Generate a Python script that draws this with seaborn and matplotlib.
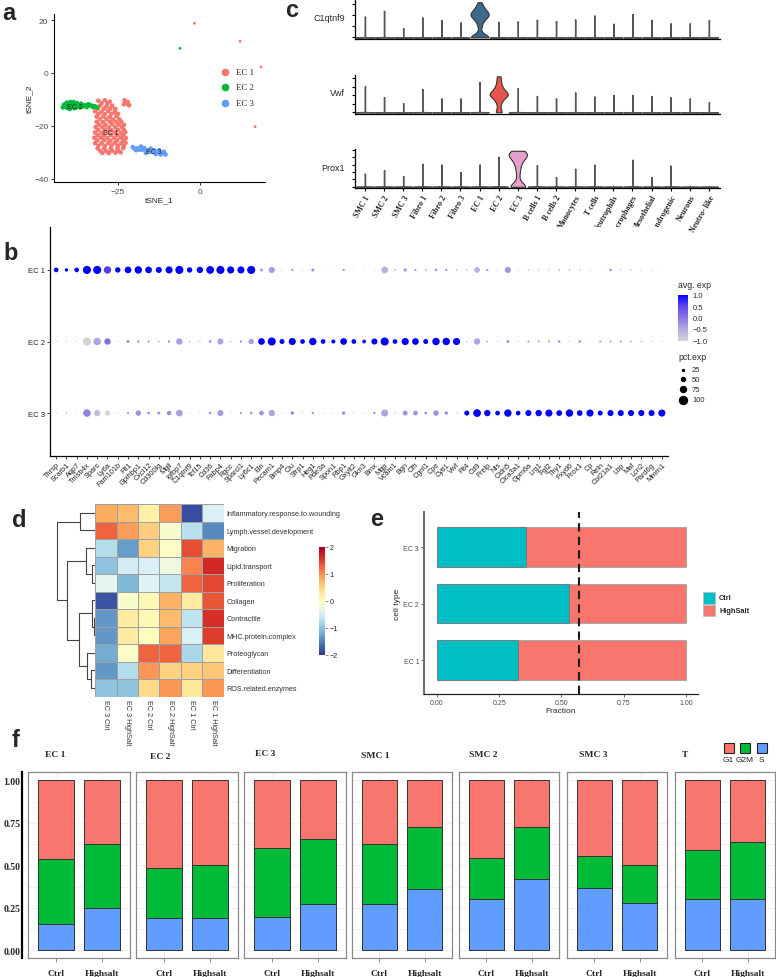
import numpy as np
import pandas as pd
import matplotlib
matplotlib.use('Agg')
import matplotlib.pyplot as plt
import seaborn as sns
from matplotlib.colors import LinearSegmentedColormap, Normalize
from matplotlib.lines import Line2D
from matplotlib.patches import Rectangle
from matplotlib.cm import ScalarMappable

sns.set_theme(style='white', rc={'xtick.bottom': True, 'ytick.left': True})
plt.rcParams['font.family'] = ['Liberation Sans', 'DejaVu Sans']
SERIF = ['Liberation Serif', 'DejaVu Serif']

# ---------------- panel a : tSNE ----------------
ec1_pts = [(-31.0, -10.5), (-29.0, -10.3), (-27.5, -10.8),
           (-32.3, -12.5), (-30.5, -12.4), (-28.5, -12.6), (-26.8, -12.3),
           (-32.0, -14.5), (-30.0, -14.6), (-28.0, -14.4), (-26.0, -14.7),
           (-31.5, -16.5), (-29.5, -16.4), (-27.5, -16.6), (-25.5, -16.3),
           (-31.5, -18.5), (-29.5, -18.6), (-27.5, -18.4), (-25.5, -18.6), (-24.0, -18.3),
           (-31.8, -20.5), (-29.8, -20.4), (-27.8, -20.6), (-25.8, -20.5), (-23.8, -20.4),
           (-32.0, -22.5), (-30.0, -22.6), (-28.0, -22.4), (-26.0, -22.5), (-24.0, -22.6), (-22.8, -22.3),
           (-32.2, -24.5), (-30.2, -24.4), (-28.2, -24.6), (-26.2, -24.5), (-24.2, -24.4), (-22.6, -24.6),
           (-32.0, -26.5), (-30.0, -26.6), (-28.0, -26.4), (-26.0, -26.5), (-24.0, -26.6), (-22.7, -26.4),
           (-31.2, -28.5), (-29.2, -28.4), (-27.2, -28.6), (-25.2, -28.5), (-23.4, -28.4),
           (-29.8, -30.2), (-27.8, -30.3), (-25.8, -30.1), (-24.2, -30.0),
           (-30.0, -11.5), (-28.2, -11.5),
           (-31.2, -13.5), (-29.3, -13.5), (-27.3, -13.4), (-25.8, -13.6),
           (-31.0, -15.5), (-29.0, -15.6), (-27.0, -15.4), (-25.0, -15.5),
           (-30.5, -17.5), (-28.5, -17.4), (-26.5, -17.6), (-24.6, -17.5),
           (-30.8, -19.5), (-28.8, -19.6), (-26.8, -19.4), (-24.8, -19.5), (-23.2, -19.6),
           (-31.0, -21.5), (-29.0, -21.4), (-27.0, -21.6), (-25.0, -21.5), (-23.2, -21.4),
           (-31.2, -23.5), (-29.2, -23.6), (-27.2, -23.4), (-25.2, -23.5), (-23.3, -23.6),
           (-31.3, -25.5), (-29.3, -25.4), (-27.3, -25.6), (-25.3, -25.5), (-23.4, -25.4),
           (-31.0, -27.5), (-29.0, -27.6), (-27.0, -27.4), (-25.0, -27.5), (-23.2, -27.6),
           (-30.4, -29.4), (-28.6, -29.5), (-26.8, -29.3), (-24.9, -29.4),
           (-23.0, -10.3), (-22.0, -11.0), (-23.2, -11.8), (-21.6, -12.2), (-22.5, -11.5)]
ec1_outliers = [(-1.7, 18.8), (12.2, 12.0), (16.8, -20.3), (18.6, 2.3)]
ec2_pts = [(-41.5, -12.0), (-40.5, -11.2), (-40.5, -13.2), (-39.3, -12.2), (-38.5, -11.0),
           (-38.3, -13.3), (-37.2, -12.2), (-36.2, -11.6), (-36.5, -13.0), (-41.8, -13.0),
           (-39.5, -11.0), (-39.7, -13.6), (-35.0, -12.2), (-34.0, -11.8), (-33.0, -12.4),
           (-32.0, -12.6), (-31.3, -13.0), (-34.5, -12.9),
           (-41.0, -12.6), (-40.0, -12.0), (-39.0, -12.8), (-38.0, -12.0), (-37.5, -11.4),
           (-37.8, -13.1), (-40.8, -11.6), (-35.6, -12.6), (-33.5, -12.2), (-32.6, -12.9)]
ec2_outliers = [(-6.1, 9.3)]
ec3_pts = [(-20.5, -28.0), (-19.0, -28.5), (-17.5, -29.0), (-16.0, -29.3), (-14.5, -29.8),
           (-13.0, -30.0), (-11.5, -30.3), (-10.5, -30.8), (-18.0, -27.8), (-15.0, -28.6),
           (-12.5, -29.2), (-16.5, -30.2), (-19.5, -29.2),
           (-20.0, -28.6), (-18.5, -29.0), (-17.0, -28.4), (-15.5, -29.5), (-14.0, -29.2),
           (-12.0, -30.8), (-11.0, -29.8), (-13.5, -30.6)]
clusters = ['EC 1', 'EC 2', 'EC 3']
cluster_colors = ['#F8766D', '#00BA38', '#619CFF']

# ---------------- panel c : violins ----------------
cells = ['SMC 1', 'SMC 2', 'SMC 3', 'Fibro 1', 'Fibro 2', 'Fibro 3', 'EC 1', 'EC 2', 'EC 3',
         'B cells 1', 'B cells 2', 'Monocytes', 'T cells', 'Neutrophils', 'Macrophages',
         'Mesothelial', 'Chondrogenic', 'Neurons', 'Neutro- like']
c1qtnf9_max = [1.89, 2.4, 0.81, 1.8, 1.56, 1.35, np.nan, 1.41, 1.44, 1.59, 1.47, 1.62,
               1.98, 1.23, 2.1, 1.59, 1.26, 1.26, 1.56]
vwf_max = [3.03, 1.75, 1.05, 2.72, 1.6, 1.6, 3.54, np.nan, 2.8, 1.9, 1.6, 2.3, 1.83,
           2.0, 2.02, 1.9, 1.75, 1.6, 1.17]
prox1_max = [1.76, 2.25, 1.44, 3.1, 3.0, 2.0, 3.0, 4.05, np.nan, 2.9, 1.3, 2.43, 2.97,
             0.06, 3.65, 1.3, 2.84, 0.06, 0.06]
c1qtnf9_ec1 = [0, 0, 0, 0, 0, 0, 0, 0, 0, 0, 0, 0, 0, 0,
               0.3, 0.6, 0.9, 1.1, 1.3, 1.4, 1.5, 1.6, 1.7, 1.75, 1.8, 1.85, 1.9, 1.95,
               2.0, 2.0, 2.05, 2.1, 2.1, 2.15, 2.2, 2.2, 2.25, 2.3, 2.35, 2.4, 2.5, 2.55,
               2.6, 2.7, 2.8, 2.9, 3.0, 3.2]
vwf_ec2 = [0, 0, 0, 0.4, 0.8, 1.1, 1.3, 1.5, 1.6, 1.7, 1.8, 1.9, 1.95, 2.0, 2.05, 2.1,
           2.15, 2.2, 2.25, 2.3, 2.4, 2.5, 2.6, 2.7, 2.85, 3.0, 3.2, 3.4, 3.7, 4.0, 4.2]
prox1_ec3 = [0, 0, 0, 0, 0, 0, 0, 0, 0, 0, 0, 0,
             0.4, 0.9, 1.4, 1.8, 2.2, 2.5, 2.8, 3.0, 3.2, 3.4, 3.6, 3.7, 3.8, 3.9, 4.0,
             4.1, 4.15, 4.2, 4.3, 4.35, 4.4, 4.45, 4.5, 4.55, 4.6, 4.65, 4.7, 4.75, 4.8, 4.86]

# ---------------- panel b : dot plot ----------------
genes = ['Thrsp', 'Scarb1', 'Aqp7', 'Tmsb4x', 'Sparc', 'Ly6a', 'Fam101b', 'Flt1', 'Gpihbp1',
         'Cxcl12', 'Cd300lg', 'Mgll', 'Igfbp7', 'C1qtnf9', 'Tcf15', 'Cd36', 'Fabp4', 'Rgcc',
         'Sparcl1', 'Ly6c1', 'Eln', 'Pecam1', 'Bmp4', 'Clu', 'Sfrp1', 'Heg1', 'Pde3a', 'Spon1',
         'Rbp1', 'Gxylt2', 'Gkn3', 'Bmx', 'Mgp', 'Vcam1', 'Bgn', 'Cfh', 'Cgnl1', 'Cpe', 'Cytl1',
         'Vwf', 'Flt4', 'Cd9', 'Prelp', 'Nts', 'Cldn5', 'Clca3a1', 'Gpm6a', 'Lrg1', 'Fgl2',
         'Thy1', 'Fxyd6', 'Prox1', 'Cp', 'Reln', 'Col21a1', 'Lbp', 'Maf', 'Lcn2', 'Pard6g', 'Mmrn1']
pct_ec1 = [58, 42, 58, 100, 100, 92, 67, 83, 92, 83, 75, 88, 100, 67, 79, 96, 100, 88, 88, 100,
           37, 75, 12, 29, 12, 37, 10, 10, 29, 10, 10, 10, 83, 20, 40, 25, 20, 33, 29, 17,
           17, 71, 29, 12, 75, 12, 15, 15, 15, 18, 18, 15, 12, 8, 33, 15, 15, 12, 12, 8]
avg_ec1 = [1, 1, 1, 1, 1, 0.55, 1, 1, 1, 1, 1, 1, 1, 1, 1, 1, 1, 1, 1, 1,
           -0.35, -0.35, -0.3, -0.3, -0.3, -0.3, -0.3, -0.3, -0.3, -0.3, -0.3, -0.3, -0.6, -0.3,
           -0.3, -0.3, -0.3, -0.3, -0.3, -0.3,
           -0.3, -0.6, -0.3, -0.3, -0.3, -0.3, -0.3, -0.3, -0.3, -0.3, -0.3, -0.3, -0.3, -0.3,
           -0.3, -0.3, -0.3, -0.3, -0.3, -0.3]
pct_ec2 = [12, 12, 12, 100, 92, 79, 10, 37, 29, 25, 17, 29, 79, 15, 15, 33, 75, 15, 29, 67,
           83, 100, 62, 88, 58, 92, 58, 50, 83, 58, 46, 75, 100, 58, 88, 83, 62, 92, 92, 88,
           15, 79, 20, 12, 37, 12, 25, 25, 25, 33, 12, 33, 8, 25, 25, 25, 20, 15, 12, 12]
avg_ec2 = [-0.3, -0.3, -0.3, -1, -0.45, 0.1, -0.3, -0.2, -0.2, -0.2, -0.2, -0.2, -0.4, -0.3,
           -0.3, -0.3, -0.4, -0.3, -0.3, -0.4,
           1, 1, 1, 1, 1, 1, 1, 1, 1, 1, 1, 1, 1, 1, 1, 1, 1, 1, 1, 1,
           -0.3, -0.45, -0.3, -0.3, -0.3, -0.3, -0.3, -0.3, -0.3, -0.3, -0.3, -0.3, -0.3, -0.3,
           -0.3, -0.3, -0.3, -0.3, -0.3, -0.3]
pct_ec3 = [12, 15, 12, 92, 79, 67, 12, 25, 67, 33, 37, 54, 83, 12, 12, 33, 75, 12, 25, 33,
           58, 79, 12, 42, 12, 29, 12, 12, 42, 12, 12, 29, 88, 15, 62, 58, 33, 67, 42, 12,
           62, 96, 79, 58, 92, 58, 75, 79, 88, 71, 92, 71, 88, 62, 75, 75, 75, 75, 75, 88]
avg_ec3 = [-0.3, -0.3, -0.3, -0.1, -0.75, -1, -0.3, -0.2, -0.25, -0.25, -0.25, -0.2, -0.4,
           -0.3, -0.3, -0.3, -0.35, -0.3, -0.3, -0.3,
           -0.25, -0.45, -0.3, -0.2, -0.3, -0.3, -0.3, -0.3, -0.25, -0.3, -0.3, -0.3, -0.45,
           -0.3, -0.3, -0.25, -0.25, -0.25, -0.25, -0.3,
           1, 1, 1, 1, 1, 1, 1, 1, 1, 1, 1, 1, 1, 1, 1, 1, 1, 1, 1, 1]

# ---------------- panel d : heatmap ----------------
pathways = ['Inflammatory.response.to.wounding', 'Lymph.vessel.development', 'Migration',
            'Lipid.transport', 'Proliferation', 'Collagen', 'Contractile',
            'MHC.protein.complex', 'Proteoglycan', 'Differentiation', 'ROS.related.enzymes']
samples = ['EC 3 Ctrl', 'EC 3 HighSalt', 'EC 2 Ctrl', 'EC 2 HighSalt', 'EC 1 Ctrl', 'EC 1 HighSalt']
heat_vals = [[0.8, 0.7, 0.2, 0.9, -1.85, -0.45],
             [1.25, 0.9, 0.55, -0.1, -0.7, -1.45],
             [-0.75, -1.3, 0.5, -0.05, 1.4, 0.75],
             [-1.0, -0.5, -0.45, -0.2, 1.05, 1.65],
             [-0.35, -1.1, -0.4, -0.6, 1.25, 1.45],
             [-1.8, -0.1, 0.1, 0.75, 0.25, 1.35],
             [-1.35, 0.25, 0.1, 0.7, -0.65, 1.6],
             [-1.35, 0.25, 0.0, 0.85, -0.45, 1.5],
             [-1.2, -0.05, 1.25, 1.25, -0.8, 0.3],
             [-1.35, -0.75, 0.95, 0.5, 0.5, 0.6],
             [-1.0, -1.0, 0.45, 0.95, 0.3, 0.95]]
# row dendrogram: (left node, right node, height); leaves 0..10 in display order
row_linkage = [(6, 7, 0.8), (5, 11, 3.5), (9, 10, 4.0), (8, 13, 8.0), (3, 4, 3.0),
               (2, 15, 9.0), (12, 14, 16.0), (16, 17, 28.3), (0, 1, 15.0), (19, 18, 37.7)]

# ---------------- panel e : fraction ----------------
bar_cells = ['EC 3', 'EC 2', 'EC 1']
ctrl_frac = [0.359, 0.531, 0.327]
mean_ctrl = 0.569

# ---------------- panel f : cell cycle ----------------
phase_cells = ['EC 1', 'EC 2', 'EC 3', 'SMC 1', 'SMC 2', 'SMC 3', 'T']
conditions = ['Ctrl', 'Highsalt']
s_ctrl = [0.155, 0.192, 0.194, 0.272, 0.302, 0.365, 0.302]
g2m_ctrl = [0.380, 0.294, 0.410, 0.355, 0.243, 0.192, 0.290]
s_hs = [0.247, 0.188, 0.272, 0.359, 0.422, 0.280, 0.300]
g2m_hs = [0.382, 0.314, 0.383, 0.366, 0.307, 0.224, 0.339]
phase_colors = {'G1': '#F8766D', 'G2M': '#00BA38', 'S': '#619CFF'}

# =====================================================
W, H = 776, 978
fig = plt.figure(figsize=(W / 100, H / 100), dpi=100)


def add_ax(x0, y0, x1, y1):
    return fig.add_axes([x0 / W, 1 - y1 / H, (x1 - x0) / W, (y1 - y0) / H])


def ftext(x, y, s, **kw):
    return fig.text(x / W, 1 - y / H, s, **kw)


for lab, (x, y) in {'a': (2, 20), 'b': (3, 260), 'c': (285, 17), 'd': (12, 527),
                    'e': (370, 526), 'f': (12, 747)}.items():
    ftext(x, y, lab, fontsize=17, fontweight='bold', va='baseline')

# ---- a ----
ax = add_ax(54, 15, 265, 183)
pts = ec1_pts + ec2_pts + ec3_pts
df_a = pd.DataFrame({'tSNE_1': [p[0] for p in pts], 'tSNE_2': [p[1] for p in pts],
                     'cluster': ['EC 1'] * len(ec1_pts) + ['EC 2'] * len(ec2_pts) + ['EC 3'] * len(ec3_pts)})
sns.scatterplot(data=df_a, x='tSNE_1', y='tSNE_2', hue='cluster', hue_order=clusters,
                palette=cluster_colors, s=11, linewidth=0, legend=False, ax=ax)
out = ec1_outliers + ec2_outliers
df_o = pd.DataFrame({'tSNE_1': [p[0] for p in out], 'tSNE_2': [p[1] for p in out],
                     'cluster': ['EC 1'] * len(ec1_outliers) + ['EC 2'] * len(ec2_outliers)})
sns.scatterplot(data=df_o, x='tSNE_1', y='tSNE_2', hue='cluster', hue_order=clusters,
                palette=cluster_colors, s=4, linewidth=0, legend=False, ax=ax)
ax.set_xlim(-44.5, 19.8)
ax.set_ylim(-41.2, 22.3)
ax.set_xticks([-25, 0])
ax.set_yticks([-40, -20, 0, 20])
ax.tick_params(labelsize=6, labelcolor='#4d4d4d', length=2.5, width=0.7, pad=1.5)
ax.set_xlabel('tSNE_1', fontsize=6, labelpad=1)
ax.set_ylabel('tSNE_2', fontsize=6, labelpad=1)
sns.despine(ax=ax)
for sp in ['left', 'bottom']:
    ax.spines[sp].set_linewidth(0.8)
    ax.spines[sp].set_color('black')
ax.text(-40.5, -12.6, 'EC 2', fontsize=5, va='center')
ax.text(-29.5, -22.5, 'EC 1', fontsize=5, va='center')
ax.text(-16.5, -29.5, 'EC 3', fontsize=5, va='center')
for lab, col, yy in zip(clusters, cluster_colors, [73, 88, 104]):
    fig.add_artist(Line2D([225 / W], [1 - yy / H], marker='o', markersize=4.5, color=col,
                          linestyle='none', transform=fig.transFigure))
    ftext(236, yy, lab, fontsize=6.3, family=SERIF, va='center')

# ---- c ----
rows_c = [('C1qtnf9', c1qtnf9_max, c1qtnf9_ec1, 'EC 1', '#3E6A8A', (1, 40), (-0.15, 3.4), [0, 1, 2, 3]),
          ('Vwf', vwf_max, vwf_ec2, 'EC 2', '#E8534A', (76, 115), (-0.2, 4.35), [0, 1, 2, 3, 4]),
          ('Prox1', prox1_max, prox1_ec3, 'EC 3', '#E79FCB', (150, 189.3), (-0.2, 5.1), [0, 1, 2, 3, 4, 5])]
for k, (gene, heights, hi_vals, hi_cell, hi_col, (y0, y1), ylim, yt) in enumerate(rows_c):
    ax = add_ax(355, y0, 720, y1)
    low_cell, low_expr = [], []
    for c, h in zip(cells, heights):
        if np.isnan(h):
            continue
        low_cell += [c] * 41
        low_expr += [0.0] * 40 + [h]
    df_low = pd.DataFrame({'cell': low_cell, 'expr': low_expr})
    df_hi = pd.DataFrame({'cell': [hi_cell] * len(hi_vals), 'expr': hi_vals})
    sns.violinplot(data=df_low, x='cell', y='expr', order=cells, color='#8a8a8a', inner=None,
                   cut=0, bw_adjust=0.05, density_norm='width', width=0.95, linewidth=1.0,
                   linecolor='#555555', saturation=1, ax=ax)
    sns.violinplot(data=df_hi, x='cell', y='expr', order=cells, color=hi_col, inner=None,
                   cut=0, bw_adjust=0.55, density_norm='width', width=0.95, linewidth=0.8,
                   linecolor='#333333', saturation=1, ax=ax)
    ax.set_xlim(-0.52, 18.58)
    ax.set_ylim(*ylim)
    ax.set_yticks(yt)
    ax.set_yticklabels([])
    ax.tick_params(axis='y', length=2.5, width=0.8, color='black')
    ax.set_ylabel(gene, rotation=0, ha='right', va='center', fontsize=6.5)
    ax.yaxis.set_label_coords(-0.028, 0.54)
    ax.set_xlabel('')
    sns.despine(ax=ax)
    for sp in ['left', 'bottom']:
        ax.spines[sp].set_linewidth(0.9)
        ax.spines[sp].set_color('black')
    if k < 2:
        ax.tick_params(axis='x', length=0, labelbottom=False)
    else:
        ax.tick_params(axis='x', length=2.5, width=0.8, color='black', pad=1)
        ax.set_xticks(range(len(cells)))
        ax.set_xticklabels(cells, rotation=60, ha='right', rotation_mode='anchor',
                           fontsize=5.8, fontweight='bold', family=SERIF)

# ---- b ----
dot_cmap = LinearSegmentedColormap.from_list(
    'dot', ['#D3D3D3', '#B3A9E2', '#8C74E2', '#6045EC', '#0000FF'])
ax = add_ax(50, 228, 668, 457)
df_b = pd.DataFrame({'gene': genes * 3,
                     'cluster': ['EC 1'] * 60 + ['EC 2'] * 60 + ['EC 3'] * 60,
                     'pct': pct_ec1 + pct_ec2 + pct_ec3,
                     'avg': avg_ec1 + avg_ec2 + avg_ec3})
df_b['area'] = df_b['pct'] ** 2
sns.scatterplot(data=df_b, x='gene', y='cluster', hue='avg', palette=dot_cmap, hue_norm=(-1, 1),
                size='area', sizes=(0, 34), size_norm=(0, 10000), linewidth=0, legend=False, ax=ax)
ax.set_xlim(-0.6, 59.6)
ax.set_ylim(2.6, -0.6)
ax.set_xticks(range(60))
ax.set_xticklabels(genes, rotation=45, ha='right', rotation_mode='anchor', fontsize=5.3)
ax.set_yticks([0, 1, 2])
ax.set_yticklabels(clusters, fontsize=5.5)
ax.tick_params(length=2, width=0.6, pad=1.5, labelcolor='#222222')
ax.set_xlabel('')
ax.set_ylabel('')
sns.despine(ax=ax)
for sp in ['left', 'bottom']:
    ax.spines[sp].set_linewidth(0.9)
    ax.spines[sp].set_color('black')
ftext(678, 285, 'avg. exp', fontsize=6.3, va='center')
cax = add_ax(678, 295.5, 688, 341.5)
cb = fig.colorbar(ScalarMappable(norm=Normalize(-1, 1), cmap=dot_cmap), cax=cax)
cb.outline.set_visible(False)
cb.set_ticks([-1, -0.5, 0, 0.5, 1])
cb.set_ticklabels(['\u22121.0', '\u22120.5', '0.0', '0.5', '1.0'])
cax.tick_params(labelsize=5.5, length=2, width=0.5, color='white', pad=1.5)
ftext(678, 357, 'pct.exp', fontsize=6.3, va='center')
for p, yy in zip([25, 50, 75, 100], [370.7, 380.3, 390.3, 400.7]):
    fig.add_artist(Line2D([683 / W], [1 - yy / H], marker='o', markersize=p / 100 * 8 * 0.72,
                          color='black', linestyle='none', transform=fig.transFigure))
    ftext(692, yy, str(p), fontsize=5.5, va='center')

# ---- d ----
ax = add_ax(95, 505, 224, 697.5)
cax = add_ax(319, 548, 325, 656)
df_h = pd.DataFrame(heat_vals, index=pathways, columns=samples)
sns.heatmap(df_h, cmap='RdYlBu_r', vmin=-2, vmax=2, linewidths=0.7, linecolor='#a0a0a0',
            cbar_ax=cax, ax=ax)
ax.yaxis.tick_right()
ax.set_yticks(np.arange(len(pathways)) + 0.5)
ax.set_yticklabels(pathways, rotation=0, fontsize=5.2, color='#333333')
ax.set_xticklabels(samples, rotation=270, fontsize=5.2, color='#333333', ha='center', va='top')
ax.tick_params(length=0, pad=2)
ax.set_xlabel('')
ax.set_ylabel('')
cax.set_yticks([-2, -1, 0, 1, 2])
cax.set_yticklabels(['\u22122', '\u22121', '0', '1', '2'])
cax.tick_params(labelsize=5.2, length=2, width=0.5, color='#666666', pad=1.5)
for sp in cax.spines.values():
    sp.set_visible(False)
# dendrogram
axd = add_ax(50, 505, 95, 697.5)
pos = {i: i + 0.5 for i in range(len(pathways))}
hgt = {i: 0.0 for i in range(len(pathways))}
for k, (l, r, h) in enumerate(row_linkage):
    node = len(pathways) + k
    axd.plot([hgt[l], h, h, hgt[r]], [pos[l], pos[l], pos[r], pos[r]], color='#444444', lw=0.8,
             solid_capstyle='butt')
    pos[node] = (pos[l] + pos[r]) / 2
    hgt[node] = h
axd.set_xlim(45, 0)
axd.set_ylim(len(pathways), 0)
axd.axis('off')

# ---- e ----
CTRL_COL, HS_COL = '#00BFC4', '#F8766D'
ax = add_ax(424, 513, 698, 695)
sns.barplot(x=[1.0, 1.0, 1.0], y=bar_cells, order=bar_cells, orient='h', color=HS_COL,
            width=0.7, edgecolor='#a8a8a8', linewidth=0.8, saturation=1, ax=ax)
sns.barplot(x=ctrl_frac, y=bar_cells, order=bar_cells, orient='h', color=CTRL_COL,
            width=0.7, edgecolor='#777777', linewidth=0.6, saturation=1, ax=ax)
ax.axvline(mean_ctrl, color='#1a1a1a', lw=1.5, ls=(0, (4, 2.5)))
ax.set_xlim(-0.052, 1.048)
ax.set_ylim(2.6, -0.62)
ax.set_xticks([0, 0.25, 0.5, 0.75, 1.0])
ax.set_xticklabels(['0.00', '0.25', '0.50', '0.75', '1.00'])
ax.tick_params(labelsize=5, labelcolor='#4d4d4d', length=2, width=0.6, color='#555555', pad=1.5)
ax.set_xlabel('Fraction', fontsize=6, labelpad=1)
ax.set_ylabel('cell type', fontsize=6, labelpad=2)
sns.despine(ax=ax)
ax.spines['left'].set_linewidth(1.5)
ax.spines['left'].set_color('#6f6f6f')
ax.spines['bottom'].set_linewidth(0.9)
ax.spines['bottom'].set_color('#222222')
for lab, col, yy in zip(['Ctrl', 'HighSalt'], [CTRL_COL, HS_COL], [593, 605.5]):
    fig.add_artist(Rectangle((703 / W, 1 - (yy + 11.5) / H), 12 / W, 11.5 / H, facecolor=col,
                             edgecolor='#bbbbbb', lw=0.5, transform=fig.transFigure))
    ftext(719, yy + 6, lab, fontsize=5.3, fontweight='bold', va='center')

# ---- f ----
facet_x = [(28, 130), (136, 238), (244, 346), (352, 452), (459, 559), (567, 667), (675, 775)]
title_pos = [(55, 755), (160, 757), (265, 754), (375, 756), (483, 755), (593, 755), (685, 755)]
for i, cell in enumerate(phase_cells):
    x0, x1 = facet_x[i]
    ax = add_ax(x0, 773, x1, 959)
    s_vals = [s_ctrl[i], s_hs[i]]
    sg_vals = [s_ctrl[i] + g2m_ctrl[i], s_hs[i] + g2m_hs[i]]
    sns.barplot(x=conditions, y=[1.0, 1.0], color=phase_colors['G1'], width=0.78,
                edgecolor='#333333', linewidth=0.7, saturation=1, ax=ax)
    sns.barplot(x=conditions, y=sg_vals, color=phase_colors['G2M'], width=0.78,
                edgecolor='#333333', linewidth=0.7, saturation=1, ax=ax)
    sns.barplot(x=conditions, y=s_vals, color=phase_colors['S'], width=0.78,
                edgecolor='#333333', linewidth=0.7, saturation=1, ax=ax)
    ax.set_xlim(-0.6, 1.6)
    ax.set_ylim(-0.045, 1.05)
    ax.set_yticks([0, 0.25, 0.5, 0.75, 1.0])
    ax.set_yticks([0.125, 0.375, 0.625, 0.875], minor=True)
    ax.set_axisbelow(True)
    ax.grid(True, which='both', axis='y', color='#ebebeb', lw=0.5)
    ax.grid(True, which='major', axis='x', color='#ebebeb', lw=0.5)
    ax.tick_params(axis='y', which='both', length=0, labelleft=False)
    ax.tick_params(axis='x', length=3, width=0.6, color='#777777', pad=5)
    ax.set_xticks([0, 1])
    ax.set_xticklabels(conditions, fontsize=6.8, fontweight='bold', family=SERIF)
    ax.set_xlabel('')
    ax.set_ylabel('')
    for sp in ax.spines.values():
        sp.set_visible(True)
        sp.set_color('#8a8a8a')
        sp.set_linewidth(0.9)
    tx, ty = title_pos[i]
    ftext(tx, ty, cell, fontsize=6.8, fontweight='bold', family=SERIF, ha='center', va='center')

axy = add_ax(22, 773, 24, 959)
axy.set_ylim(-0.045, 1.05)
axy.set_yticks([0, 0.25, 0.5, 0.75, 1.0])
axy.set_yticklabels(['0.00', '0.25', '0.50', '0.75', '1.00'], fontsize=7, fontweight='bold',
                    family=SERIF)
axy.tick_params(axis='y', length=0, pad=1)
axy.set_xticks([])
for name, sp in axy.spines.items():
    sp.set_visible(name == 'left')
axy.spines['left'].set_linewidth(1.6)
axy.spines['left'].set_color('black')
axy.patch.set_alpha(0)

for ph, xx in zip(['G1', 'G2M', 'S'], [728.7, 745, 761.7]):
    fig.add_artist(Rectangle(((xx - 4.8) / W, 1 - 753.8 / H), 9.6 / W, 9.6 / H,
                             facecolor=phase_colors[ph], edgecolor='#222222', lw=0.8,
                             transform=fig.transFigure))
    ftext(xx, 760.5, ph, fontsize=6, ha='center', va='center', color='#222222')

fig.savefig('out.png', dpi=100)
